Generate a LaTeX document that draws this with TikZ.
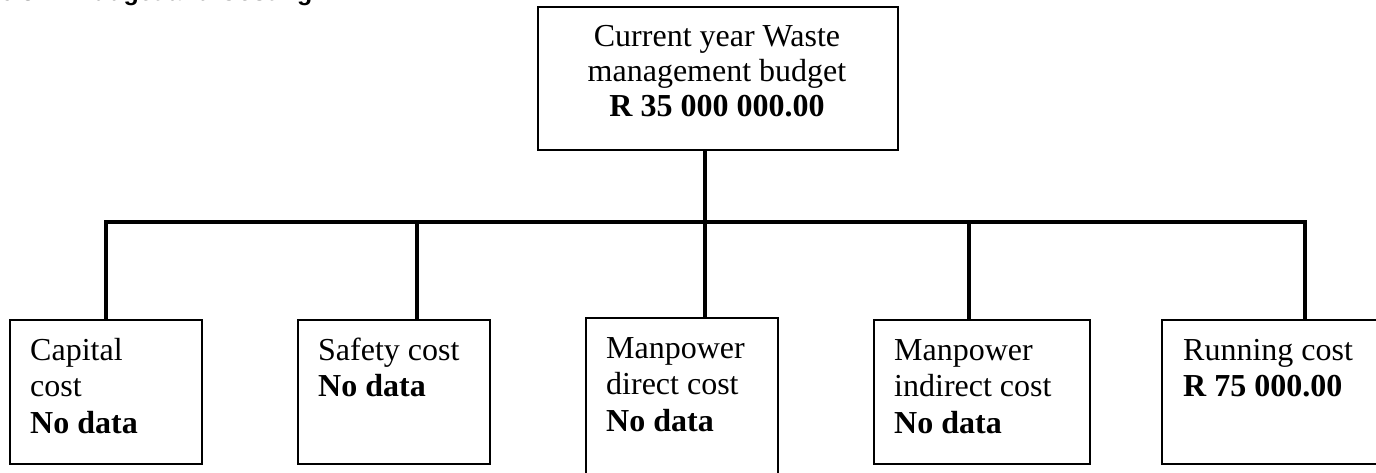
\documentclass[tikz,border=0pt]{standalone}
\usepackage{fontspec}
\setmainfont{Liberation Serif}
\newfontfamily\headfont{Liberation Sans}
\begin{document}
\begin{tikzpicture}[x=1pt,y=-1pt,
  box/.style={draw=black, line width=1.6pt, anchor=north west, inner sep=0pt, fill=none},
  bodytext/.style={inner sep=0pt, align=left, anchor=base west,
    font=\fontsize{32}{36.5}\selectfont},
  toptext/.style={inner sep=0pt, align=center, anchor=base,
    font=\fontsize{32}{35}\selectfont},
  link/.style={draw=black, line width=3.2pt},
  heavylink/.style={draw=black, line width=4.8pt}]
\clip (0,0) rectangle (1376,473);
\useasboundingbox (0,0) rectangle (1376,473);

% section heading (runs off the top edge)
\node[inner sep=0pt, anchor=base west, font=\headfont\bfseries\fontsize{25}{28}\selectfont]
  (heading) at (0,1) {6.3\hspace{40pt}Budget and Costing};

% budget box; multi-line nodes are placed by the baseline of their last line
\node[box, minimum width=360pt, minimum height=143pt] (budget) at (537,6) {};
\node[toptext] (budgettext) at (717,117)
  {Current year Waste\\management budget\\\textbf{R 35 000 000.00}};

% cost boxes
\node[box, minimum width=192pt, minimum height=144pt] (capital) at (9,319) {};
\node[box, minimum width=192pt, minimum height=144pt] (safety) at (297,319) {};
\node[box, minimum width=192pt, minimum height=170pt] (direct) at (585,317) {};
\node[box, minimum width=216pt, minimum height=144pt] (indirect) at (873,319) {};
\node[box, minimum width=240pt, minimum height=144pt] (running) at (1161,319) {};

\node[bodytext] (capitaltext) at (30,433) {Capital\\cost\\\textbf{No data}};
\node[bodytext] (safetytext) at (318,396.5) {Safety cost\\\textbf{No data}};
\node[bodytext] (directtext) at (606,431) {Manpower\\direct cost\\\textbf{No data}};
\node[bodytext] (indirecttext) at (894,433) {Manpower\\indirect cost\\\textbf{No data}};
\node[bodytext] (runningtext) at (1183,396.5) {Running cost\\\textbf{R 75 000.00}};

% bus and drops
\coordinate (hub) at (705,222);
\coordinate (busL) at (106,222);
\coordinate (busR) at (1305,222);
\draw[link] (budget.south -| hub) -- (hub);
\draw[link] (hub) -- (direct.north -| hub);
\draw[link, line cap=rect] (busL) -- (busR);
\draw[link] (busL) -- (capital.north -| busL);
\draw[link] (417,222) -- (safety.north -| 417,0);
\draw[link] (969,222) -- (indirect.north -| 969,0);
\draw[heavylink] (busR) -- (running.north -| busR);
\end{tikzpicture}
\end{document}
